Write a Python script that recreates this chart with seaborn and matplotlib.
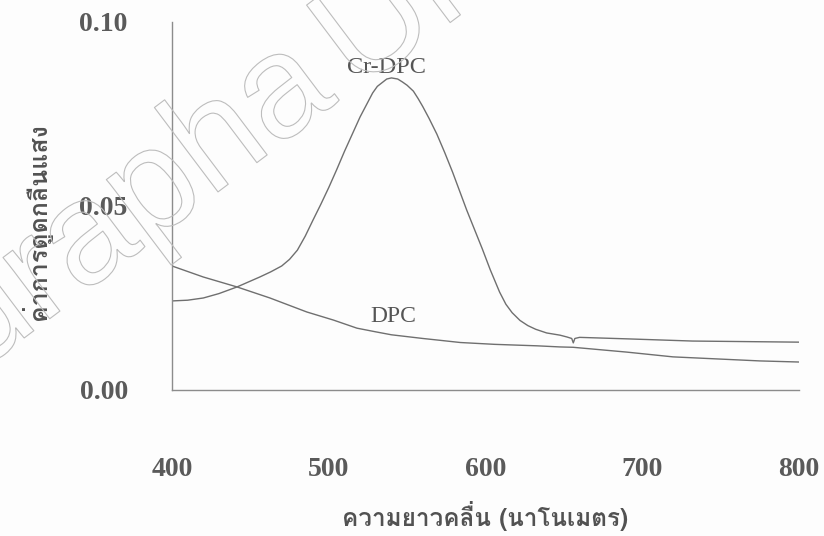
import matplotlib
matplotlib.use("Agg")
import matplotlib.pyplot as plt
import matplotlib.patheffects as pe
import pandas as pd
import seaborn as sns

# Absorption spectra (wavelength in nm, absorbance)
wavelength_cr = [400, 410, 420, 430, 441.5, 456, 463, 470, 475, 480, 485, 490,
                 495, 500, 505, 510, 515, 520, 528, 531, 534.6, 537, 540, 544,
                 547, 550, 554, 557, 560, 564, 569, 574, 579, 588, 598, 603,
                 609, 613, 617, 622, 627, 632, 639, 647.5, 652, 655, 656, 657,
                 660, 690, 732, 800]
absorb_cr = [0.0242, 0.0244, 0.0250, 0.0262, 0.0280, 0.0307, 0.0321, 0.0337,
             0.0355, 0.0380, 0.0418, 0.0462, 0.0505, 0.0550, 0.0598, 0.0648,
             0.0695, 0.0742, 0.0807, 0.0825, 0.0837, 0.0845, 0.0848, 0.0845,
             0.0837, 0.0828, 0.0812, 0.0792, 0.0770, 0.0738, 0.0695, 0.0645,
             0.0592, 0.0489, 0.0383, 0.0327, 0.0266, 0.0233, 0.0210, 0.0189,
             0.0175, 0.0165, 0.0155, 0.0149, 0.0144, 0.0140, 0.0128, 0.0140,
             0.0143, 0.0139, 0.0133, 0.0130]

wavelength_dpc = [400, 420, 441.5, 462.5, 486, 503, 518, 530, 540, 560, 571,
                  584, 606, 633, 647.5, 656, 690, 719.6, 775, 800]
absorb_dpc = [0.0337, 0.0307, 0.0280, 0.0250, 0.0212, 0.0190, 0.0168, 0.0158,
              0.0150, 0.0140, 0.0135, 0.0129, 0.0124, 0.0120, 0.0117, 0.0116,
              0.0103, 0.0090, 0.0079, 0.0076]

x_ticks = [400, 500, 600, 700, 800]
y_ticks = [0.00, 0.05, 0.10]
y_tick_labels = ["0.00", "0.05", "0.10"]
x_title = "ความยาวคลื่น (นาโนเมตร)"
y_title = "ค่าการดูดกลืนแสง"
thai_family = ["Loma", "DejaVu Sans"]

sns.set_style("white")
plt.rcParams["font.family"] = ["Liberation Serif", "DejaVu Serif"]

df = pd.concat([
    pd.DataFrame({"wavelength": wavelength_cr, "absorbance": absorb_cr, "sample": "Cr-DPC"}),
    pd.DataFrame({"wavelength": wavelength_dpc, "absorbance": absorb_dpc, "sample": "DPC"}),
])

fig = plt.figure(figsize=(8.24, 5.36), dpi=100, facecolor="#fdfdfd")
ax = fig.add_axes([0.2087, 0.2724, 0.761, 0.6866])
ax.set_facecolor("none")

sns.lineplot(data=df, x="wavelength", y="absorbance", hue="sample",
             palette={"Cr-DPC": "#6f6f6f", "DPC": "#6f6f6f"},
             linewidth=1.0, legend=False, ax=ax, estimator=None)

ax.set_xlim(400, 800)
ax.set_ylim(0, 0.10)
ax.set_xticks(x_ticks)
ax.set_yticks(y_ticks)
ax.set_yticklabels(y_tick_labels)
ax.set_xlabel("")
ax.set_ylabel("")

for side in ("top", "right"):
    ax.spines[side].set_visible(False)
for side in ("left", "bottom"):
    ax.spines[side].set_color("#8c8c8c")
    ax.spines[side].set_linewidth(1.0)

ax.tick_params(axis="y", direction="out", length=10.8, width=1.0, color="#8c8c8c",
               pad=21, labelsize=20, labelcolor="#5a5a5a")
ax.tick_params(axis="x", direction="out", length=11.5, width=1.0, color="#8c8c8c",
               pad=37, labelsize=20, labelcolor="#5a5a5a")
for lab in ax.get_xticklabels() + ax.get_yticklabels():
    lab.set_fontweight("bold")

ax.text(537, 0.0862, "Cr-DPC", ha="center", va="baseline", fontsize=17.5, color="#555555")
ax.text(541.5, 0.0185, "DPC", ha="center", va="baseline", fontsize=17, color="#555555")

fig.text(0.589, 0.037, x_title, ha="center", va="center", fontsize=17.5,
         fontweight="bold", color="#525252", family=thai_family)
fig.text(0.044, 0.586, y_title, ha="center", va="center", rotation=90, fontsize=18,
         fontweight="bold", color="#525252", family=thai_family)

# faint outlined watermark
wm_style = dict(fontsize=105, color="none", rotation=37, rotation_mode="anchor",
                va="baseline", family=["Liberation Sans", "DejaVu Sans"],
                path_effects=[pe.Stroke(linewidth=0.8, foreground="#bdbdbd")])
fig.text(340 / 824, 1 - 100 / 536, "Burapha", ha="right", **wm_style)
fig.text(358 / 824, 1 - 92 / 536, "University", ha="left", **wm_style)

fig.savefig("out.png", dpi=100, facecolor=fig.get_facecolor())
